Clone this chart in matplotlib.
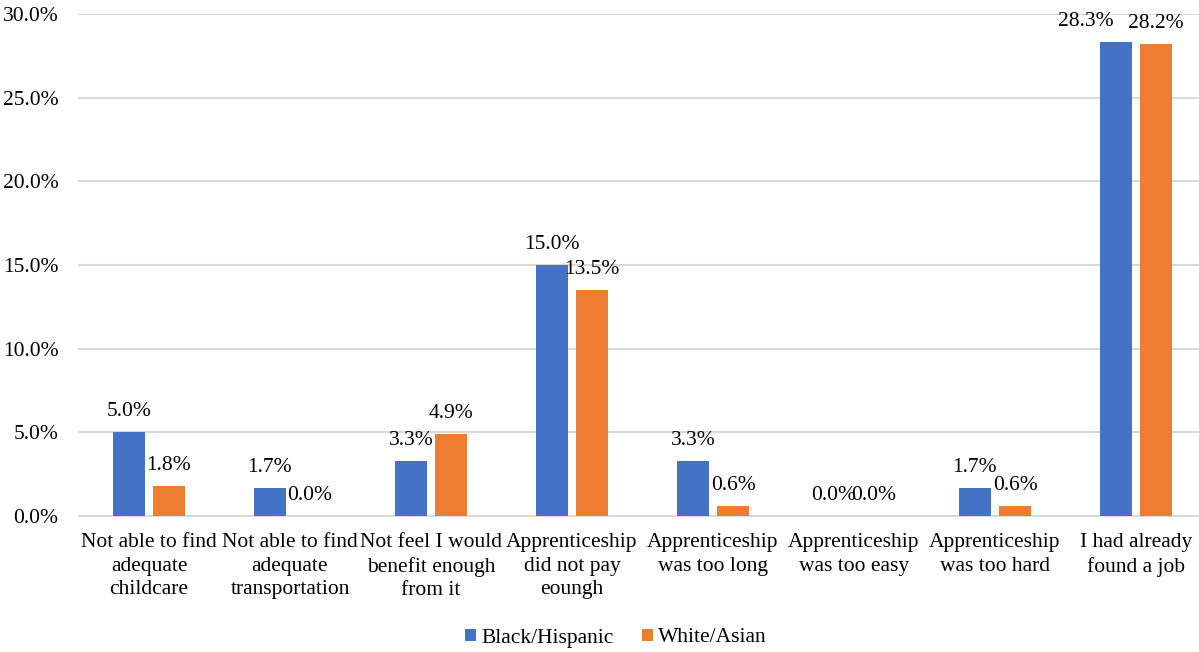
import matplotlib
matplotlib.use('Agg')
import matplotlib.pyplot as plt
import numpy as np

plt.rcParams['font.family'] = ['Liberation Serif', 'DejaVu Serif']

categories = ['Not able to find\nadequate\nchildcare',
              'Not able to find\nadequate\ntransportation',
              'Not feel I would\nbenefit enough\nfrom it',
              'Apprenticeship\ndid not pay\neoungh',
              'Apprenticeship\nwas too long',
              'Apprenticeship\nwas too easy',
              'Apprenticeship\nwas too hard',
              'I had already\nfound a job']
black_hispanic = [5.0, 1.7, 3.3, 15.0, 3.3, 0.0, 1.7, 28.3]
white_asian = [1.8, 0.0, 4.9, 13.5, 0.6, 0.0, 0.6, 28.2]
series_names = ['Black/Hispanic', 'White/Asian']
colors = ['#4472C4', '#ED7D31']

fs = 15.5

fig = plt.figure(figsize=(11.99, 6.52), dpi=100)
ax = fig.add_axes([78.5 / 1199, 1 - 516 / 652, 1128 / 1199, 502 / 652])

x = np.arange(len(categories))
w = 0.227
off = 0.142
for k, (vals, name, c, d) in enumerate([(black_hispanic, series_names[0], colors[0], -off),
                                        (white_asian, series_names[1], colors[1], off)]):
    bars = ax.bar(x + d, vals, width=w, color=c, label=name, zorder=3)
    for i, (b, v) in enumerate(zip(bars, vals)):
        # Excel nudges the left label of the last group so the two don't collide
        dx = -22 if (k == 0 and i == len(vals) - 1) else 0
        ax.annotate(f'{v:.1f}%', (b.get_x() + b.get_width() / 2, v),
                    xytext=(dx, 11.5), textcoords='offset points',
                    ha='center', va='baseline', fontsize=fs)

ax.set_xlim(-0.5, len(categories) - 0.5)
ax.set_ylim(0, 30)
ax.set_yticks(np.arange(0, 31, 5))
ax.set_yticklabels([f'{t:.1f}%' for t in np.arange(0, 31, 5)])
ax.set_xticks(x)
ax.set_xticklabels(categories, linespacing=1.3)
ax.tick_params(axis='both', length=0, labelsize=fs, colors='black')
ax.tick_params(axis='x', pad=12.5)
ax.tick_params(axis='y', pad=14.5)
ax.grid(axis='y', color='#d9d9d9', linewidth=1.5, zorder=0)
for s in ['top', 'right', 'left']:
    ax.spines[s].set_visible(False)
ax.spines['bottom'].set_color('#d9d9d9')
ax.spines['bottom'].set_linewidth(1.5)

fig.legend(loc='center', bbox_to_anchor=(616 / 1199, 1 - 638 / 652), ncol=2,
           frameon=False, fontsize=fs, handlelength=0.5, handleheight=0.5,
           handletextpad=0.25, columnspacing=1.3)

fig.savefig('out.png', dpi=100)
